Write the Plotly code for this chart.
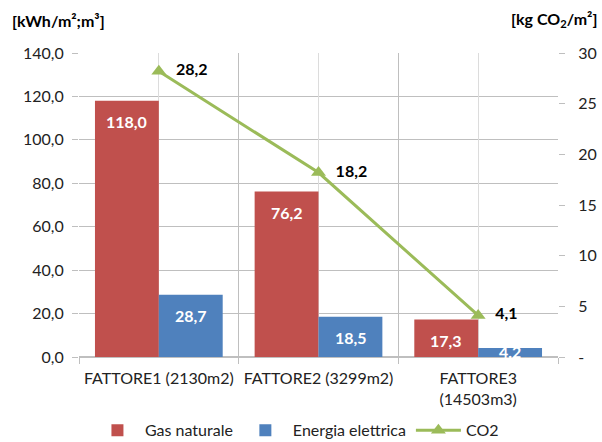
import plotly.graph_objects as go

# Consumption per plant and resulting CO2 emissions
categories = ["FATTORE1 (2130m2)", "FATTORE2 (3299m2)", "FATTORE3<br>(14503m3)"]
gas_naturale = [118.0, 76.2, 17.3]
energia_elettrica = [28.7, 18.5, 4.2]
co2 = [28.2, 18.2, 4.1]

right_tick_vals = [0, 5, 10, 15, 20, 25, 30]
right_tick_text = ["-", "5", "10", "15", "20", "25", "30"]

RED = "#C0504D"
BLUE = "#4F81BD"
GREEN = "#9BBB59"
FONT = "Lato, Calibri, Carlito, sans-serif"
FS = 16

Y_MAX = 140
PLOT_H = 442 - 53 - 85


def fmt(v):
    return f"{v:.1f}".replace(".", ",")


fig = go.Figure()
fig.add_trace(go.Bar(name="Gas naturale", x=categories, y=gas_naturale,
                     marker_color=RED, marker_line_width=0))
fig.add_trace(go.Bar(name="Energia elettrica", x=categories, y=energia_elettrica,
                     marker_color=BLUE, marker_line_width=0))
fig.add_trace(go.Scatter(name="CO2", x=categories, y=co2, xaxis="x2", yaxis="y2",
                         mode="lines+markers+text",
                         line=dict(color=GREEN, width=3),
                         marker=dict(symbol="triangle-up", size=13, color=GREEN),
                         text=["\u2002" + fmt(v) for v in co2], textposition="middle right",
                         textfont=dict(family=FONT, size=FS, color="black", weight="bold"),
                         cliponaxis=False))

# value labels inside the top of each bar (very short bars: label hugs the top)
bar_half = 32
annotations = []
for series, shift in ((gas_naturale, -bar_half), (energia_elettrica, bar_half)):
    for cat, v in zip(categories, series):
        bar_px = v / Y_MAX * PLOT_H
        drop = 21 if bar_px > 20 else 4
        annotations.append(dict(x=cat, y=v, xref="x", yref="y", text=fmt(v),
                                showarrow=False, xshift=shift, yshift=-drop,
                                font=dict(family=FONT, size=FS, color="white", weight="bold")))

annotations.append(dict(text="[kWh/m²;m³]", xref="paper", yref="paper", x=-0.145, y=1.07,
                        xanchor="left", yanchor="bottom", showarrow=False,
                        font=dict(family=FONT, size=FS, color="black", weight="bold")))
annotations.append(dict(text="[kg CO<sub>2</sub>/m²]", xref="paper", yref="paper", x=1.085, y=1.07,
                        xanchor="right", yanchor="bottom", showarrow=False,
                        font=dict(family=FONT, size=FS, color="black", weight="bold")))

fig.update_layout(
    width=602, height=442,
    margin=dict(l=79, r=44, t=53, b=85, autoexpand=False),
    paper_bgcolor="white", plot_bgcolor="white",
    separators=",.",
    font=dict(family=FONT, size=FS, color="#222222"),
    barmode="group", bargap=0.2, bargroupgap=0,
    showlegend=True,
    legend=dict(orientation="h", x=0.455, xanchor="center", y=-0.185, yanchor="top",
                font=dict(family=FONT, size=FS, color="#222222"),
                itemwidth=45, traceorder="normal"),
    annotations=annotations,
    xaxis=dict(type="category", tickson="boundaries", showgrid=True, gridcolor="#BFBFBF",
               gridwidth=1, ticks="outside", ticklen=6, tickcolor="#BFBFBF",
               showline=False, range=[-0.5, 2.5], ticklabelstandoff=10),
    xaxis2=dict(type="category", overlaying="x", matches="x", showgrid=True,
                gridcolor="#DCDCDC", showticklabels=False, ticks="", showline=False),
    yaxis=dict(range=[0, Y_MAX], dtick=20, tickformat=".1f", showgrid=True,
               gridcolor="#BFBFBF", gridwidth=1, ticks="outside", ticklen=6,
               tickcolor="#BFBFBF", zeroline=True, zerolinecolor="#BFBFBF",
               showline=False, ticklabelstandoff=5),
    yaxis2=dict(range=[0, 30], overlaying="y", side="right", anchor="x",
                tickvals=right_tick_vals, ticktext=right_tick_text,
                showgrid=False, zeroline=False, ticks="outside", ticklen=6,
                tickcolor="#BFBFBF", showline=False, ticklabelstandoff=10),
)

fig.write_html("out.html")
